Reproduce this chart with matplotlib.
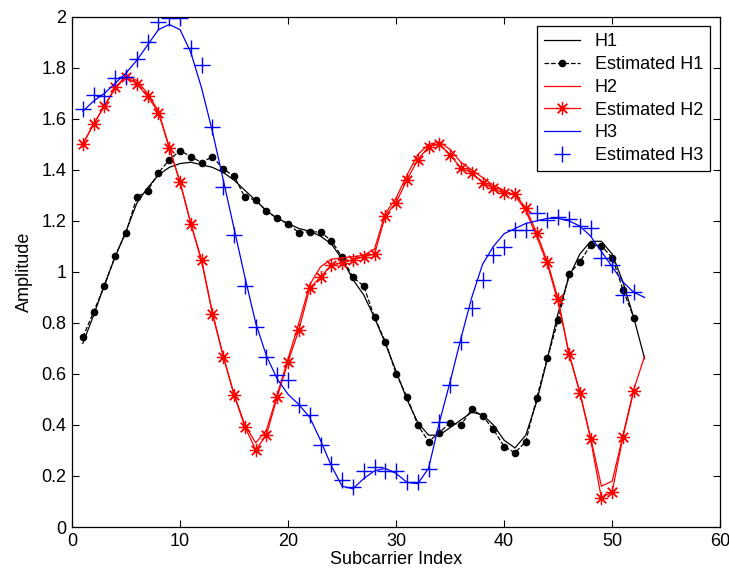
import numpy as np
import matplotlib
matplotlib.use("Agg")
import matplotlib.pyplot as plt

# ── Data ──────────────────────────────────────────────────────────────────────
sub_true = list(range(1, 54))
sub_est = list(range(1, 53))

h1_true = [0.72, 0.83, 0.95, 1.06, 1.16, 1.27, 1.33, 1.38, 1.41, 1.425,
           1.43, 1.42, 1.41, 1.39, 1.36, 1.32, 1.28, 1.24, 1.21, 1.19,
           1.17, 1.16, 1.14, 1.11, 1.05, 0.97, 0.91, 0.82, 0.72, 0.61,
           0.50, 0.41, 0.36, 0.36, 0.39, 0.42, 0.45, 0.44, 0.40, 0.34,
           0.31, 0.36, 0.49, 0.66, 0.84, 0.98, 1.07, 1.12, 1.12, 1.07,
           0.96, 0.82, 0.66]
h1_est = [0.744, 0.844, 0.945, 1.064, 1.154, 1.293, 1.318, 1.389, 1.439, 1.476,
          1.452, 1.429, 1.452, 1.403, 1.376, 1.293, 1.282, 1.238, 1.21, 1.188,
          1.154, 1.158, 1.156, 1.123, 1.058, 0.979, 0.945, 0.822, 0.727, 0.60,
          0.511, 0.40, 0.335, 0.37, 0.409, 0.40, 0.462, 0.435, 0.383, 0.315,
          0.291, 0.335, 0.505, 0.662, 0.812, 0.992, 1.038, 1.106, 1.102, 1.056,
          0.93, 0.82]

h2_true = [1.50, 1.58, 1.65, 1.72, 1.77, 1.75, 1.70, 1.63, 1.49, 1.35,
           1.19, 1.04, 0.84, 0.67, 0.52, 0.40, 0.33, 0.38, 0.52, 0.66,
           0.80, 0.95, 1.02, 1.05, 1.055, 1.06, 1.065, 1.09, 1.23, 1.29,
           1.38, 1.46, 1.50, 1.51, 1.48, 1.43, 1.40, 1.37, 1.34, 1.32,
           1.30, 1.24, 1.14, 1.03, 0.88, 0.68, 0.53, 0.35, 0.16, 0.18,
           0.36, 0.54, 0.67]
h2_est = [1.502, 1.58, 1.651, 1.724, 1.766, 1.737, 1.688, 1.625, 1.485, 1.354,
          1.188, 1.047, 0.835, 0.668, 0.518, 0.393, 0.302, 0.361, 0.511, 0.648,
          0.773, 0.936, 0.98, 1.027, 1.036, 1.047, 1.06, 1.07, 1.22, 1.272,
          1.361, 1.439, 1.491, 1.502, 1.459, 1.407, 1.389, 1.35, 1.328, 1.308,
          1.306, 1.25, 1.154, 1.04, 0.893, 0.678, 0.527, 0.344, 0.113, 0.139,
          0.354, 0.535]

h3_true = [1.63, 1.67, 1.70, 1.74, 1.78, 1.83, 1.89, 1.95, 1.97, 1.95,
           1.86, 1.72, 1.55, 1.36, 1.17, 0.98, 0.80, 0.67, 0.58, 0.52,
           0.48, 0.43, 0.34, 0.24, 0.16, 0.15, 0.19, 0.22, 0.23, 0.21,
           0.175, 0.17, 0.23, 0.41, 0.57, 0.74, 0.90, 1.03, 1.10, 1.15,
           1.17, 1.19, 1.20, 1.21, 1.21, 1.20, 1.18, 1.14, 1.08, 1.02,
           0.96, 0.92, 0.90]
h3_est = [1.638, 1.692, 1.69, 1.759, 1.766, 1.834, 1.903, 1.978, 1.995, 1.995,
          1.877, 1.812, 1.57, 1.332, 1.145, 0.945, 0.786, 0.668, 0.596, 0.576,
          0.478, 0.439, 0.322, 0.247, 0.184, 0.156, 0.221, 0.236, 0.221, 0.221,
          0.178, 0.178, 0.226, 0.413, 0.557, 0.727, 0.858, 0.969, 1.067, 1.097,
          1.165, 1.165, 1.233, 1.204, 1.217, 1.207, 1.18, 1.171, 1.054, 1.027,
          0.91, 0.923]

# ── Plot ─────────────────────────────────────────────────────────────────────
plt.rcParams["font.family"] = ["Liberation Sans", "DejaVu Sans"]
plt.rcParams["font.size"] = 13

fig = plt.figure(figsize=(7.29, 5.82), dpi=100)
ax = fig.add_axes([0.0988, 0.0945, 0.8892, 0.8765])

ASTERISK = (8, 2, 0)   # matlab-style '*'

ax.plot(sub_true, h1_true, "-", color="black", lw=0.9, label="H1")
ax.plot(sub_est, h1_est, "--", color="black", lw=0.9, marker=".",
        markersize=9, label="Estimated H1")
ax.plot(sub_true, h2_true, "-", color="red", lw=0.9, label="H2")
ax.plot(sub_est, h2_est, "-", color="red", lw=0.9, marker=ASTERISK,
        markersize=9.5, markeredgewidth=0.9, label="Estimated H2")
ax.plot(sub_true, h3_true, "-", color="blue", lw=0.9, label="H3")
ax.plot(sub_est, h3_est, "+", color="blue", markersize=12,
        markeredgewidth=1.0, label="Estimated H3")

ax.set_xlim(0, 60)
ax.set_ylim(0, 2)
ax.set_xticks(np.arange(0, 61, 10))
ax.set_yticks(np.arange(0, 2.01, 0.2))
ax.set_yticklabels(["0", "0.2", "0.4", "0.6", "0.8", "1", "1.2", "1.4",
                    "1.6", "1.8", "2"])
ax.tick_params(direction="in", top=True, right=True, length=5, pad=4)
for sp in ax.spines.values():
    sp.set_linewidth(0.9)

ax.set_xlabel("Subcarrier Index", labelpad=1)
ax.set_ylabel("Amplitude", labelpad=6)

leg = ax.legend(loc="upper right", bbox_to_anchor=(0.9845, 0.982),
                fancybox=False, edgecolor="black", framealpha=1,
                handlelength=2.0, borderpad=0.4, labelspacing=0.32,
                handletextpad=0.8, borderaxespad=0)
leg.get_frame().set_linewidth(0.9)

fig.savefig("out.png", dpi=100)
